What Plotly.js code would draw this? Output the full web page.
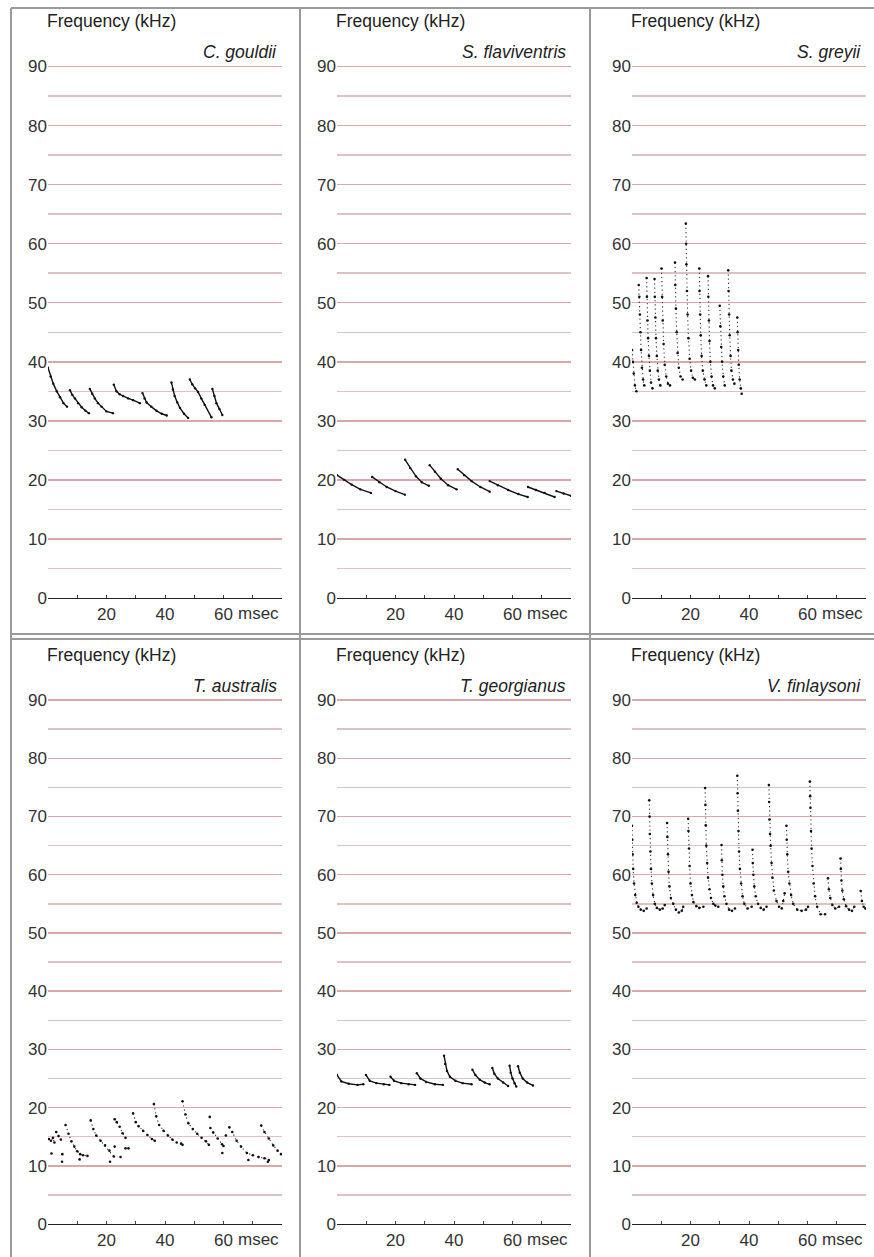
<!DOCTYPE html>
<html>
<head>
<meta charset="utf-8">
<script src="https://cdn.plot.ly/plotly-3.0.1.min.js"></script>
<style>
html,body{margin:0;padding:0;background:#fff;}
#chart{width:874px;height:1257px;}
</style>
</head>
<body>
<div id="chart"></div>
<script>
// ---- Data (time in msec, frequency in kHz); null separates pulses ----
const speciesNames = ['C. gouldii', 'S. flaviventris', 'S. greyii', 'T. australis', 'T. georgianus', 'V. finlaysoni'];
const yTickVals = [0, 10, 20, 30, 40, 50, 60, 70, 80, 90];
const yMinorVals = [5, 15, 25, 35, 45, 55, 65, 75, 85, 95];
const xTickVals = [0, 10, 20, 30, 40, 50, 60, 70, 80];
const xTickText = ['', '', '20', '', '40', '', '60', '', ''];

const gouldiiT = [0,0.9,1.8,3,4.1,5.3,6.5, null, 7.5,8.3,9.2,10.3,11.5,12.8,14, null, 14.3,15.1,16,17.1,18.3,20,22.2, null,
  22.5,23.4,24.5,25.7,27.4,29.1,31.4, null, 32.3,33,33.7,35.3,37.1,38.9,40.6, null, 42.2,42.7,43.3,44.2,45.1,46.5,47.9, null,
  48.5,49.3,50.3,51.3,52.4,53.6,55.9, null, 56.2,56.9,57.6,58.6,59.6];
const gouldiiF = [39,37.5,36.3,35,34,33,32.4, null, 35.2,34.4,33.8,33,32.3,31.7,31.3, null, 35.4,34.6,33.8,33,32.4,31.6,31.3, null,
  36.1,35,34.5,34.2,33.8,33.5,33, null, 34.7,33.8,33.1,32.4,31.7,31.2,30.9, null, 36.5,35.3,34.2,33.1,32.2,31.2,30.5, null,
  37,36.2,35.5,34.9,33.8,32.7,30.6, null, 35.4,34.2,33,32,31];

const flaviT = [0,2.5,5,8,11.6, null, 12,14.5,17,20,23.2, null, 23.3,25,27,29,31.4, null, 31.7,33.5,35.5,38,40.9, null,
  41.3,43.5,46,49,52.2, null, 52.2,55,58.5,62,65.2, null, 65.3,68,71,74.4, null, 75,77.5,80];
const flaviF = [20.8,20,19.2,18.4,17.8, null, 20.5,19.6,18.8,18.1,17.5, null, 23.4,22,20.6,19.6,19, null, 22.5,21.4,20.2,19.1,18.4, null,
  21.8,20.8,19.8,18.8,18, null, 19.8,19.1,18.3,17.6,17.1, null, 18.8,18.3,17.8,17.1, null, 18.1,17.7,17.3];

const greyiiT = [0,0.3,0.6,1,1.5, null, 2.3,2.5,2.7,2.9,3.1,3.4,3.8,4.2, null, 5,5.1,5.3,5.5,5.8,6.1,6.5,7, null,
  7.7,7.8,8,8.2,8.5,8.8,9.2,9.7, null, 10.1,10.3,10.5,10.8,11.2,11.7,12.3,13, null, 14.7,14.8,15,15.3,15.6,16,16.6,17.3, null,
  18.4,18.5,18.6,18.8,19,19.3,19.7,20.2,20.8,21.5, null, 23,23.1,23.3,23.5,23.8,24.2,24.8,25.4, null,
  26,26.1,26.3,26.5,26.8,27.2,27.7,28.3, null, 30,30.2,30.5,30.8,31.2,31.7, null, 32.9,33,33.2,33.4,33.7,34,34.5,35, null,
  36,36.1,36.3,36.5,36.8,37.2,37.5];
const greyiiF = [42,40,38,36,35, null, 53,51,48,45,42,39,37,36, null, 54.2,51,47,44,41,38.5,36.5,35.5, null,
  54,51,47.5,44,41,38.5,37,36, null, 55.8,51,47,43,39.5,37.5,36.3,36, null, 56.8,53,49,45,41.5,39,37.5,37, null,
  63.4,60,56.5,52,48,44,40.5,38.5,37.3,37, null, 55.8,52,48,44.5,41,38.5,37,36, null,
  54.5,51,47,43.5,40,37.5,36,35.5, null, 49.5,46,42.5,40,37.5,36, null, 55.5,52,48,44.5,41,38.5,37,36.3, null,
  47.5,45,42,39.5,37,35.5,34.6];

const australisT = [0.3,1,1.7,2.2, null, 2.8,3.6,4.4, null, 6,7,8,9,10,11,12,13.5, null, 14.6,15.5,16.5,18,19.5,21,22.5, null,
  22.8,23.5,24.5,25.5,26.5, null, 29.1,30,31,32.5,34,35.5,36.5, null, 36.2,37,38,39.5,41,42.5,44,45.5,46, null,
  46,47,48,49.5,51,52.5,54,55, null, 55.5,56.5,58,59.5,60, null, 62,63,64.5,66,68,70,72,74,75.5, null,
  72.9,74,75.5,77,78.5,79.7];
const australisF = [14.6,14.3,14.8,14, null, 15.8,15.1,14.5, null, 17,15.5,14.2,13.3,12.5,12,11.8,11.7, null, 17.8,16.3,15.2,14.3,13.5,12.6,11.6, null,
  18,17.5,16.7,15.6,14.8, null, 19,17.5,16.8,16,15.3,14.6,14.3, null, 20.6,18.5,17,16,15.2,14.5,14,13.8,13.6, null,
  21.1,18.8,17.3,16.3,15.5,14.8,14.2,13.6, null, 16.5,15.7,14.7,13.7,13.4, null, 16.6,15.8,14.3,13.3,12.2,11.8,11.5,11.3,11, null,
  16.9,15.8,14.7,13.5,12.6,12];
const australisStrayT = [1.2, 4.8, 4.9, 10.8, 21.2, 22.8, 24.8, 26.5, 27.5, 55.3, 59.6, 60.8, 68.5, 75.2];
const australisStrayF = [12.1, 10.7, 12.0, 11.1, 10.7, 13.3, 11.5, 13.0, 13.0, 18.4, 12.2, 15.2, 11.0, 10.7];

const georgT = [0,1.5,4,7,9, null, 9.9,11.2,13.5,16,17.9, null, 18.3,19.5,22,24.5,26.7, null, 27.3,28.5,30.5,33.5,36.2, null,
  36.6,37,37.6,38.6,40.5,43,46, null, 46.3,47.3,48.8,50.5,52.2, null, 53.1,53.8,55,56.8,58.5, null,
  59,59.4,60,60.7,61.3, null, 61.9,62.5,63.5,65,67];
const georgF = [25.6,24.5,24.1,23.9,24, null, 25.6,24.6,24.2,24,23.9, null, 25.3,24.6,24.2,24,23.9, null, 25.9,25,24.4,24,23.9, null,
  28.9,27.5,26.3,25.3,24.6,24.2,24, null, 26.5,25.6,24.8,24.3,24, null, 26.8,25.8,25,24.3,23.7, null,
  27.2,26,25,24.2,23.6, null, 27.1,26,25,24.3,23.8];

const finlayT = [0,0.1,0.2,0.4,0.7,1.1,1.6,2.2,3,4,5, null, 5.9,6,6.1,6.3,6.5,6.8,7.2,7.8,8.5,9.5,10.5,11.2, null,
  12,12.1,12.3,12.5,12.8,13.3,14.1,15,16,17,17.5, null, 19.2,19.3,19.5,19.7,20,20.5,21,22,23,24.4, null,
  25,25.1,25.2,25.4,25.7,26,26.5,27,27.8,28.5,29.5, null, 30.6,30.7,30.9,31.2,31.6,32.3,33.2,34.2,35.2, null,
  36,36.1,36.2,36.4,36.6,36.9,37.3,37.8,38.4,39.5,40.9, null, 41.2,41.3,41.5,41.8,42.3,43.1,44,45,46, null,
  46.8,46.9,47,47.2,47.4,47.7,48,48.5,49.4,50.3,51.2,51.7,52.2, null, 52.8,52.9,53.1,53.4,53.8,54.4,55.1,56.5,58,59.5,60.2, null,
  60.8,60.9,61,61.2,61.4,61.7,62.1,62.6,63.3,64.5,66, null, 67,67.3,67.8,68.5,69.5,70.8, null,
  71.3,71.4,71.6,71.9,72.4,73.2,74.2,75.2,76, null, 78.2,78.6,79.2,79.8];
const finlayF = [68.4,66,63.5,61,58.5,56.5,55.2,54.5,54,53.8,54.2, null, 72.8,70,67,64,61,58.5,56.5,55,54.3,54,54.2,54.8, null,
  68.9,66.5,63.5,60.5,58,56,55,54,53.5,53.8,54.5, null, 69.6,67.5,64.5,61.5,58.5,56.5,55.3,54.6,54.3,54.5, null,
  74.9,72,68.5,65,62,59.5,57.5,56,55,54.7,54.5, null, 65.1,62.5,60,58,56.3,55,54,53.8,54.2, null,
  77,74,71,67.5,64,61,58.5,56.3,55,54.2,54.5, null, 64.3,62,60,58,56.3,55,54.3,54,54.5, null,
  75.4,72.5,69.5,67,65,62,59.5,57.3,55.5,54.5,54.2,55.5,56.8, null, 68.4,66,63.5,60.5,58.5,56.5,55,54,53.8,54,54.5, null,
  76,73.5,71.5,67.5,64.5,61.5,58.5,56.3,54.5,53.2,53.2, null, 59.4,57.5,56,54.8,54.2,54.5, null,
  62.8,61,59,57.3,55.8,54.6,54,53.8,54.5, null, 57.2,55.5,54.5,54.2];

// ---- Layout geometry ----
const W = 874, H = 1257;
const colPx = [[48, 282], [337, 571], [632, 866]];
const rowPx = [[37, 598], [671, 1224]];   // [top(95 kHz), bottom(0 kHz)] in page px
const FONT = 'Liberation Sans, Arial, Helvetica, sans-serif';

const seriesT = [gouldiiT, flaviT, greyiiT, australisT, georgT, finlayT];
const seriesF = [gouldiiF, flaviF, greyiiF, australisF, georgF, finlayF];
const styles = ['solid', 'solid', 'dotted', 'dotted', 'solid', 'dotted'];

const data = [];
const layout = {
  width: W, height: H,
  margin: {l: 0, r: 0, t: 0, b: 0},
  paper_bgcolor: '#fff', plot_bgcolor: 'rgba(0,0,0,0)',
  showlegend: false,
  font: {family: FONT, color: '#333'},
  annotations: [], shapes: []
};

for (let i = 0; i < 6; i++) {
  const r = Math.floor(i / 3), c = i % 3;
  const sfx = i === 0 ? '' : String(i + 1);
  const xa = 'x' + sfx, ya = 'y' + sfx;
  const xd = [colPx[c][0] / W, colPx[c][1] / W];
  const yd = [1 - rowPx[r][1] / H, 1 - rowPx[r][0] / H];

  layout['xaxis' + sfx] = {
    domain: xd, anchor: ya, range: [0, 80], fixedrange: true,
    showgrid: false, zeroline: false,
    showline: true, linecolor: '#222', linewidth: 1.2,
    tickmode: 'array', tickvals: xTickVals, ticktext: xTickText,
    ticks: 'inside', ticklen: 3, tickwidth: 1, tickcolor: '#444',
    tickfont: {family: FONT, size: 17, color: '#333'}
  };
  layout['yaxis' + sfx] = {
    domain: yd, anchor: xa, range: [0, 95], fixedrange: true,
    showline: false, zeroline: false, ticks: '',
    tickmode: 'array', tickvals: yTickVals, ticktext: yTickVals.map(String),
    showgrid: true, gridcolor: '#daa8a8', gridwidth: 1.5,
    minor: {tickmode: 'array', tickvals: yMinorVals, showgrid: true, gridcolor: '#dcc2c2', gridwidth: 1.5, ticks: ''},
    tickfont: {family: FONT, size: 17, color: '#333'}
  };

  const dotted = styles[i] === 'dotted';
  data.push({
    type: 'scatter', mode: 'lines+markers', xaxis: xa, yaxis: ya,
    x: seriesT[i], y: seriesF[i], connectgaps: false, hoverinfo: 'skip',
    line: {color: dotted ? '#333' : '#111', width: dotted ? 1.1 : 1.4, dash: dotted ? '1.2px,3px' : 'solid'},
    marker: {color: '#111', size: dotted ? 2.6 : 2.4}
  });

  layout.annotations.push({
    xref: xa + ' domain', yref: ya + ' domain', x: 0, y: 1, xanchor: 'left', yanchor: 'middle',
    xshift: -3, yshift: 16, showarrow: false, text: 'Frequency (kHz)',
    font: {family: FONT, size: 17.5, color: '#222'}
  });
  layout.annotations.push({
    xref: xa + ' domain', yref: ya, x: 1, y: 92.5, xanchor: 'right', yanchor: 'middle',
    xshift: -3, showarrow: false, text: '<i>' + speciesNames[i] + '</i>',
    font: {family: FONT, size: 17.5, color: '#222'}
  });
  layout.annotations.push({
    xref: xa, yref: ya + ' domain', x: 64.3, y: 0, xanchor: 'left', yanchor: 'middle',
    yshift: -15, showarrow: false, text: 'msec', font: {family: FONT, size: 17, color: '#333'}
  });
}

// stray dots for T. australis
data.push({
  type: 'scatter', mode: 'markers', xaxis: 'x4', yaxis: 'y4', hoverinfo: 'skip',
  x: australisStrayT, y: australisStrayF, marker: {color: '#111', size: 2.6}
});

// panel frame lines
function pline(x0, y0, x1, y1) {
  layout.shapes.push({type: 'line', xref: 'paper', yref: 'paper',
    x0: x0 / W, y0: 1 - y0 / H, x1: x1 / W, y1: 1 - y1 / H,
    line: {color: '#9a9a9a', width: 2}});
}
pline(11, 8, 874, 8);
pline(11, 8, 11, 1257);
pline(300, 8, 300, 1257);
pline(590, 8, 590, 1257);
pline(11, 634, 874, 634);
pline(11, 639, 874, 639);

Plotly.newPlot('chart', data, layout, {displayModeBar: false, staticPlot: true});
</script>
</body>
</html>
